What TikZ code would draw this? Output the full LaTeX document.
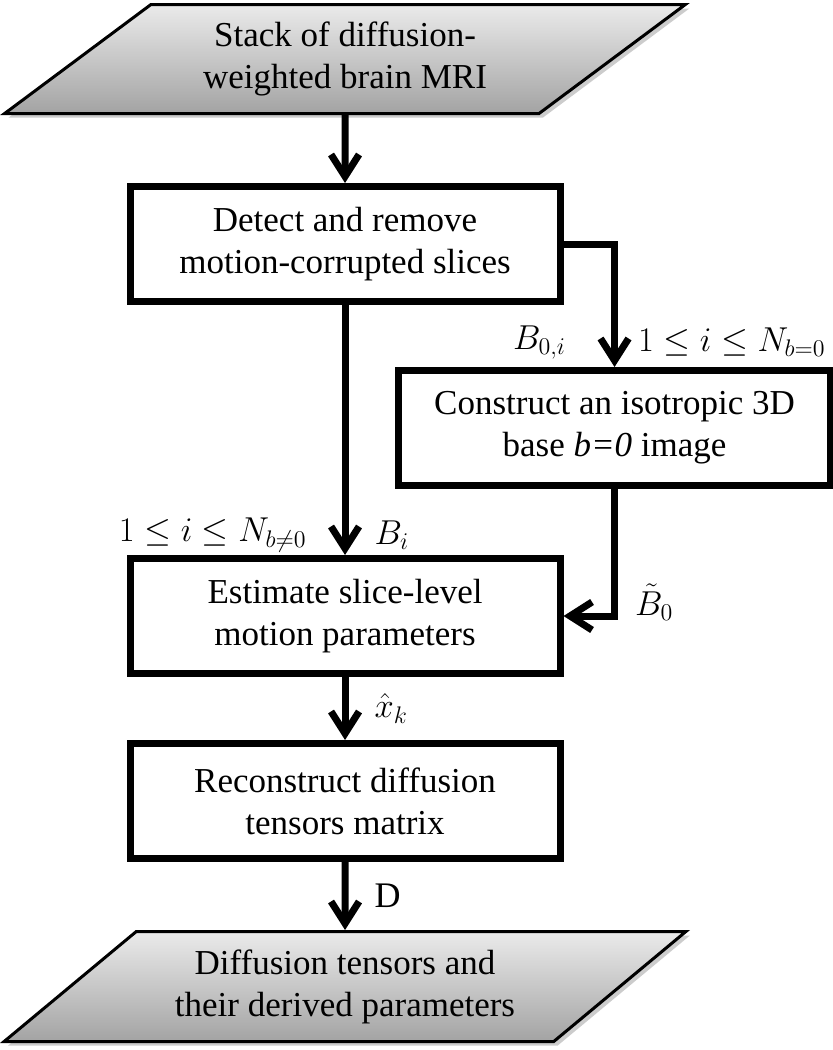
\documentclass[tikz,border=0pt]{standalone}
\usepackage{fontspec}
\setmainfont{Liberation Serif}
\usetikzlibrary{arrows.meta,positioning,shapes.geometric,shadows}

\begin{document}
\begin{tikzpicture}[>={Straight Barb[length=11pt,width=14pt]},line width=3.5pt,
    io/.style={trapezium,trapezium left angle=38,trapezium right angle=142,trapezium stretches=true,
        draw,line width=1.5pt,top color=black!8,bottom color=black!36,
        drop shadow={shadow xshift=2pt,shadow yshift=-2pt,opacity=.4},
        minimum width=341pt,align=center,font=\fontsize{17.5}{21}\selectfont},
    process/.style={rectangle,draw,line width=3.5pt,minimum width=215pt,minimum height=57.5pt,align=center,
        font=\fontsize{17.5}{21}\selectfont},
    lbl/.style={font=\fontsize{18}{21}\selectfont,inner sep=3pt}]

    \useasboundingbox (0,0) rectangle (416.5pt,-525pt);

    \node[io,minimum height=54.5pt] (stack) at (172.5pt,-29.5pt) {Stack of diffusion-\\weighted brain MRI};

    \node[process] (detect) [below=34pt of stack] {Detect and remove\\motion-corrupted slices};

    \coordinate[right=25.5pt of detect.east] (fork);

    \node[process,minimum width=216pt] (base) [below=61.5pt of fork] {Construct an isotropic 3D\\base \textit{b=0} image};

    \node[process] (estimate) [below=125pt of detect] {Estimate slice-level\\motion parameters};

    \node[process] (recon) [below=31.5pt of estimate] {Reconstruct diffusion\\tensors matrix};

    \node[io,minimum height=55pt] (tensors) [below=34pt of recon] {Diffusion tensors and\\their derived parameters};

    \path[->] (stack) edge (detect);

    \path[->] (detect) edge node[lbl,left=14.5pt,pos=0.92] {$1\le i\le N_{b\neq0}$} node[lbl,right=10pt,pos=0.92] {$B_i$} (estimate);

    \draw[->] (detect.east) -| node[lbl,left=19.5pt,pos=0.9] {$B_{0,i}$} node[lbl,right=7pt,pos=0.9] {$1\le i\le N_{b=0}$} (base.north);

    \draw[->] (base.south) |- node[lbl,right=5.5pt,pos=0.445] {$\tilde{B}_0$} (estimate.east);

    \foreach \from/\to/\lab in {estimate/recon/$\hat{x}_k$, recon/tensors/D}
        {
        \path[->] (\from) edge node[lbl,right=10pt] {\lab} (\to);
        }

\end{tikzpicture}
\end{document}
